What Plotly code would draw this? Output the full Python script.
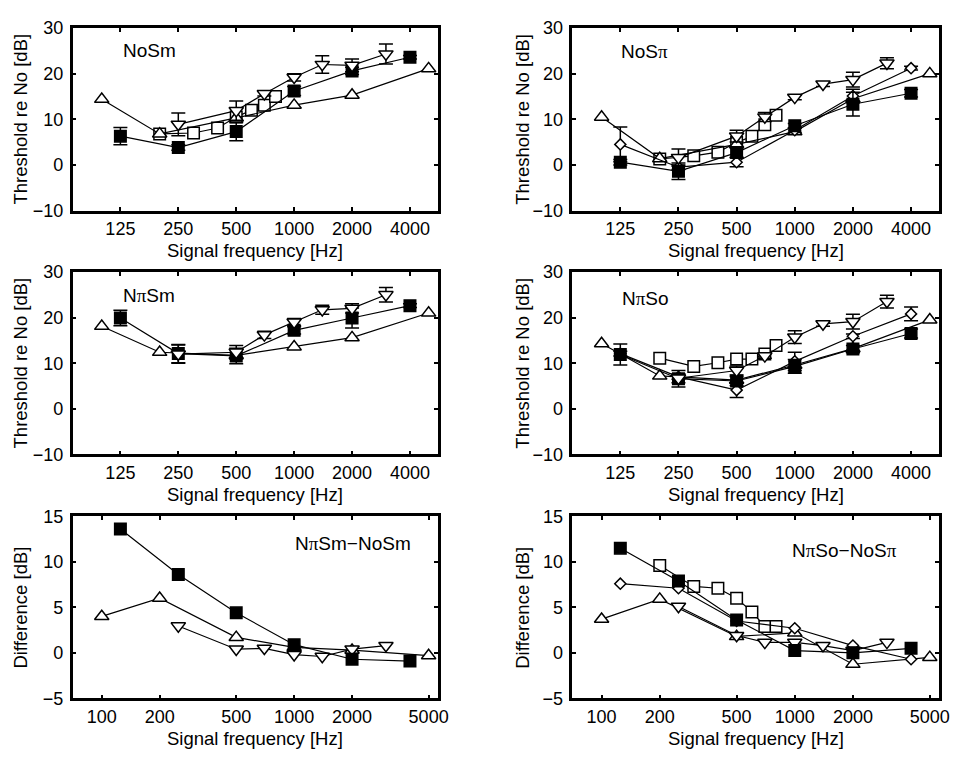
import plotly.graph_objects as go
import math

W, H = 963, 759

# ---------------- frequencies per marker series ----------------
F_TRI = [100, 200, 500, 1000, 2000, 5000]          # open up-triangle
F_SQF = [125, 250, 500, 1000, 2000, 4000]          # filled square
F_DIA = [125, 250, 500, 1000, 2000, 4000]          # open diamond
F_DTR = [250, 500, 700, 1000, 1400, 2000, 3000]    # open down-triangle
F_SQO = [200, 300, 400, 500, 600, 700, 800]        # open square

TICKS_TOP = [125, 250, 500, 1000, 2000, 4000]
TICKS_BOT = [100, 200, 500, 1000, 2000, 5000]

# ---------------- NoSm ----------------
NoSm_tri = [14.4, 6.8, 10.3, 13.1, 15.3, 21.1]
NoSm_sqf = [6.3, 3.8, 7.3, 16.2, 20.6, 23.6]
NoSm_sqf_err = [1.9, 0.6, 2.0, 1.0, 0.8, 0.4]
NoSm_dtr = [8.9, 11.9, 15.6, 19.2, 22.0, 21.8, 24.3]
NoSm_dtr_err = [2.5, 2.1, 0.5, 0.8, 1.9, 1.4, 2.2]
NoSm_sqo = [6.8, 7.0, 8.1, 10.5, 12.0, 13.1, 15.0]

# ---------------- NoSpi ----------------
NoSpi_tri = [10.5, 1.4, 4.5, 7.3, 14.5, 20.0]
NoSpi_sqf = [0.6, -1.4, 2.7, 8.6, 13.3, 15.7]
NoSpi_sqf_err = [0.6, 1.8, 1.0, 0.5, 2.6, 0.8]
NoSpi_dia = [4.5, -0.5, 0.6, 7.6, 15.1, 21.2]
NoSpi_dia_err = [3.8, 0.5, 1.0, 0.5, 1.5, 0.4]
NoSpi_dtr = [1.6, 6.3, 10.5, 14.8, 17.7, 18.7, 22.3]
NoSpi_dtr_err = [1.9, 1.3, 1.0, 0.5, 0.5, 1.6, 1.2]
NoSpi_sqo = [1.3, 2.0, 2.8, 4.9, 6.3, 8.8, 10.9]

# ---------------- NpiSm ----------------
NpiSm_tri = [18.1, 12.4, 11.7, 13.6, 15.6, 21.0]
NpiSm_sqf = [19.9, 12.1, 11.6, 17.2, 19.9, 22.6]
NpiSm_sqf_err = [1.7, 2.0, 1.7, 0.8, 2.2, 0.4]
NpiSm_dtr = [12.0, 12.4, 16.2, 19.0, 21.7, 22.0, 25.0]
NpiSm_dtr_err = [2.0, 1.5, 0.8, 0.8, 1.0, 1.0, 1.6]

# ---------------- NpiSo ----------------
NpiSo_tri = [14.3, 7.2, 6.3, 9.6, 13.2, 19.5]
NpiSo_sqf = [11.9, 6.6, 6.1, 9.3, 13.1, 16.5]
NpiSo_sqf_err = [2.3, 1.8, 1.0, 1.5, 0.8, 1.0]
NpiSo_dia = [12.1, 7.0, 4.1, 10.4, 15.9, 20.8]
NpiSo_dia_err = [0.5, 0.5, 1.6, 2.0, 0.5, 1.5]
NpiSo_dtr = [6.7, 8.4, 11.6, 15.7, 18.6, 19.1, 23.5]
NpiSo_dtr_err = [1.0, 1.0, 0.5, 1.4, 0.5, 1.6, 1.4]
NpiSo_sqo = [11.1, 9.3, 10.1, 10.9, 10.9, 12.0, 13.9]

# ---------------- differences ----------------
D1_tri = [4.0, 6.0, 1.7, 0.6, 0.3, -0.3]
D1_sqf = [13.6, 8.6, 4.4, 0.9, -0.7, -0.9]
D1_dtr = [2.95, 0.4, 0.5, -0.2, -0.4, 0.4, 0.8]

D2_tri = [3.7, 5.9, 1.8, 2.2, -1.25, -0.5]
D2_sqf = [11.5, 7.9, 3.6, 0.25, 0.0, 0.5]
D2_dia = [7.6, 7.1, 3.5, 2.7, 0.8, -0.7]
D2_dtr = [5.1, 1.9, 1.15, 1.15, 0.8, 0.25, 1.15]
D2_sqo = [9.6, 7.3, 7.1, 6.0, 4.5, 2.9, 2.9]

# ---------------- layout geometry (pixels) ----------------
COLS = [(73.5, 443.0), (579.0, 950.0)]
ROWS = [(18.5, 206.0), (269.0, 456.5), (520.0, 707.0)]
XRANGE = [math.log10(70.6), math.log10(5590)]
FONT = "Liberation Sans, Arial, Helvetica, sans-serif"
FS_TICK = 18
FS_TITLE = 18.5
FS_LABEL = 19
PI = "<span style='font-family:Liberation Serif'>π</span>"


def px(x):
    return x / W


def py(y):
    return 1 - y / H


STYLE = {
    "tri": dict(symbol="triangle-up", size=12.5, color="white"),
    "dtr": dict(symbol="triangle-down", size=12.5, color="white"),
    "sqf": dict(symbol="square", size=11.5, color="black"),
    "sqo": dict(symbol="square", size=11.5, color="white"),
    "dia": dict(symbol="diamond", size=8.5, color="white"),
}
FREQ = {"tri": F_TRI, "dtr": F_DTR, "sqf": F_SQF, "sqo": F_SQO, "dia": F_DIA}

panels = [
    # (row, col, label, ytitle, ticks, yrange, series list)
    (0, 0, "NoSm", "Threshold re No [dB]", TICKS_TOP, [-10, 30],
     [("sqo", NoSm_sqo, None), ("tri", NoSm_tri, None),
      ("sqf", NoSm_sqf, NoSm_sqf_err), ("dtr", NoSm_dtr, NoSm_dtr_err)]),
    (0, 1, "NoS" + PI, "Threshold re No [dB]", TICKS_TOP, [-10, 30],
     [("sqo", NoSpi_sqo, None), ("tri", NoSpi_tri, None), ("dia", NoSpi_dia, NoSpi_dia_err),
      ("sqf", NoSpi_sqf, NoSpi_sqf_err), ("dtr", NoSpi_dtr, NoSpi_dtr_err)]),
    (1, 0, "N" + PI + "Sm", "Threshold re No [dB]", TICKS_TOP, [-10, 30],
     [("tri", NpiSm_tri, None), ("sqf", NpiSm_sqf, NpiSm_sqf_err), ("dtr", NpiSm_dtr, NpiSm_dtr_err)]),
    (1, 1, "N" + PI + "So", "Threshold re No [dB]", TICKS_TOP, [-10, 30],
     [("sqo", NpiSo_sqo, None), ("tri", NpiSo_tri, None), ("dia", NpiSo_dia, NpiSo_dia_err),
      ("sqf", NpiSo_sqf, NpiSo_sqf_err), ("dtr", NpiSo_dtr, NpiSo_dtr_err)]),
    (2, 0, "N" + PI + "Sm−NoSm", "Difference [dB]", TICKS_BOT, [-5, 15],
     [("tri", D1_tri, None), ("dtr", D1_dtr, None), ("sqf", D1_sqf, None)]),
    (2, 1, "N" + PI + "So−NoS" + PI, "Difference [dB]", TICKS_BOT, [-5, 15],
     [("sqo", D2_sqo, None), ("tri", D2_tri, None), ("dia", D2_dia, None),
      ("dtr", D2_dtr, None), ("sqf", D2_sqf, None)]),
]

LABEL_POS = {
    (0, 0): (122, 42, "left"), (0, 1): (626, 43, "left"),
    (1, 0): (122, 293, "left"), (1, 1): (627, 296, "left"),
    (2, 0): (418, 548, "right"), (2, 1): (909, 555, "right"),
}

fig = go.Figure()
annotations = []

for i, (r, c, label, ytitle, ticks, yr, series) in enumerate(panels):
    n = "" if i == 0 else str(i + 1)
    x0, x1 = COLS[c]
    y0, y1 = ROWS[r]
    xa = dict(
        domain=[px(x0), px(x1)], type="log", range=XRANGE,
        tickvals=ticks, ticktext=[str(t) for t in ticks],
        ticks="inside", ticklen=4, tickwidth=2, tickcolor="black",
        showline=True, linewidth=2.5, linecolor="black", mirror="ticks",
        showgrid=False, zeroline=False, anchor="y" + n,
        tickfont=dict(family=FONT, size=FS_TICK, color="black"),
        ticklabelstandoff=0,
    )
    ya = dict(
        domain=[py(y1), py(y0)], range=yr, dtick=10 if yr[1] == 30 else 5,
        ticks="inside", ticklen=4, tickwidth=2, tickcolor="black",
        showline=True, linewidth=2.5, linecolor="black", mirror="ticks",
        showgrid=False, zeroline=False, anchor="x" + n,
        tickfont=dict(family=FONT, size=FS_TICK, color="black"),
        ticklabelstandoff=3,
    )
    fig.layout["xaxis" + n] = xa
    fig.layout["yaxis" + n] = ya

    for key, vals, err in series:
        st = STYLE[key]
        tr = dict(
            x=FREQ[key], y=vals, mode="lines+markers",
            xaxis="x" + n, yaxis="y" + n, showlegend=False,
            line=dict(color="black", width=1.2),
            marker=dict(symbol=st["symbol"], size=st["size"], color=st["color"],
                        line=dict(color="black", width=1.5)),
            cliponaxis=False,
        )
        if err is not None:
            tr["error_y"] = dict(type="data", array=err, visible=True,
                                 color="black", thickness=1.5, width=7)
        fig.add_trace(go.Scatter(**tr))

    # axis titles
    annotations.append(dict(text="Signal frequency [Hz]", x=px((x0 + x1) / 2),
                            y=py(y1 + 41), xref="paper", yref="paper",
                            showarrow=False, xanchor="center", yanchor="middle",
                            font=dict(family=FONT, size=FS_TITLE, color="black")))
    ytx = 20.5 if c == 0 else 528.5
    annotations.append(dict(text=ytitle, x=px(ytx), y=py((y0 + y1) / 2),
                            xref="paper", yref="paper", textangle=-90,
                            showarrow=False, xanchor="center", yanchor="middle",
                            font=dict(family=FONT, size=FS_TITLE, color="black")))
    lx, ly, anc = LABEL_POS[(r, c)]
    annotations.append(dict(text=label, x=px(lx), y=py(ly), xref="paper", yref="paper",
                            showarrow=False, xanchor=anc, yanchor="middle",
                            font=dict(family=FONT, size=FS_LABEL, color="black")))

fig.update_layout(
    width=W, height=H, margin=dict(l=0, r=0, t=0, b=0),
    paper_bgcolor="white", plot_bgcolor="white",
    annotations=annotations,
    font=dict(family=FONT, size=FS_TICK, color="black"),
)

fig.write_html("out.html")
